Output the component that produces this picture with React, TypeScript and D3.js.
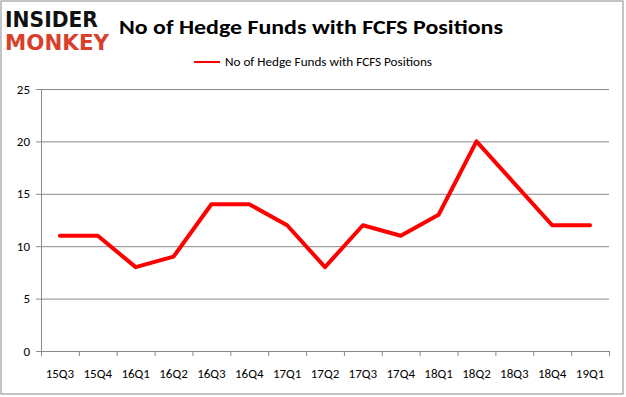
import React from "react";
import * as d3 from "d3";

const categories = ["15Q3","15Q4","16Q1","16Q2","16Q3","16Q4","17Q1","17Q2","17Q3","17Q4","18Q1","18Q2","18Q3","18Q4","19Q1"];
const values = [11,11,8,9,14,14,12,8,12,11,13,20,16,12,12];
const yTicks = [0,5,10,15,20,25];
const seriesName = "No of Hedge Funds with FCFS Positions";
const title = "No of Hedge Funds with FCFS Positions";

export default function App() {
  const W = 626, H = 397;
  const left = 41, right = 609, top = 89, bottom = 351;
  const x = d3.scaleBand<string>().domain(categories).range([left, right]);
  const y = d3.scaleLinear().domain([0, 25]).range([bottom, top]);
  const line = d3.line<number>()
    .x((_, i) => (x(categories[i]) as number) + x.bandwidth() / 2)
    .y((d) => y(d));
  const font = "Calibri, Carlito, 'Liberation Sans', Arial, sans-serif";
  return (
    <svg width={W} height={H} style={{ position: "absolute", left: 0, top: 0, background: "#fff" }} fontFamily={font}>
      <rect x={1} y={1} width={622} height={393} fill="#fff" stroke="#898989" strokeWidth={1} />
      <text x={5} y={27} fontSize={21} fontWeight={900} fill="#111" textLength={93} lengthAdjust="spacingAndGlyphs" fontFamily="'DejaVu Sans', sans-serif">INSIDER</text>
      <text x={5} y={50} fontSize={21} fontWeight={900} fill="#d9402b" textLength={104} lengthAdjust="spacingAndGlyphs" fontFamily="'DejaVu Sans', sans-serif">MONKEY</text>
      <text x={119} y={34} fontSize={20} fontWeight="bold" fill="#000" textLength={384} lengthAdjust="spacingAndGlyphs">{title}</text>
      <line x1={194} x2={220} y1={62} y2={62} stroke="#ff0000" strokeWidth={2} />
      <text x={225} y={66} fontSize={12} fill="#000" textLength={207} lengthAdjust="spacingAndGlyphs">{seriesName}</text>
      {yTicks.map((t) => (
        <g key={t}>
          {t > 0 && <line x1={left} x2={right} y1={y(t) + 0.5} y2={y(t) + 0.5} stroke="#898989" />}
          <line x1={left - 5} x2={left} y1={y(t) + 0.5} y2={y(t) + 0.5} stroke="#898989" />
          <text x={30} y={y(t) + 4.5} fontSize={13} textAnchor="end" fill="#000">{t}</text>
        </g>
      ))}
      <line x1={left + 0.5} x2={left + 0.5} y1={top} y2={bottom} stroke="#898989" />
      <line x1={left} x2={right} y1={bottom + 0.5} y2={bottom + 0.5} stroke="#898989" />
      {categories.concat(["end"]).map((c, i) => {
        const px = left + i * x.step();
        return <line key={c} x1={px + 0.5} x2={px + 0.5} y1={bottom} y2={bottom + 5} stroke="#898989" />;
      })}
      {categories.map((c) => (
        <text key={c} x={(x(c) as number) + x.bandwidth() / 2} y={378} fontSize={13} textAnchor="middle" fill="#000">{c}</text>
      ))}
      <path d={line(values) || ""} fill="none" stroke="#ff0000" strokeWidth={4} strokeLinejoin="round" strokeLinecap="round" />
    </svg>
  );
}
